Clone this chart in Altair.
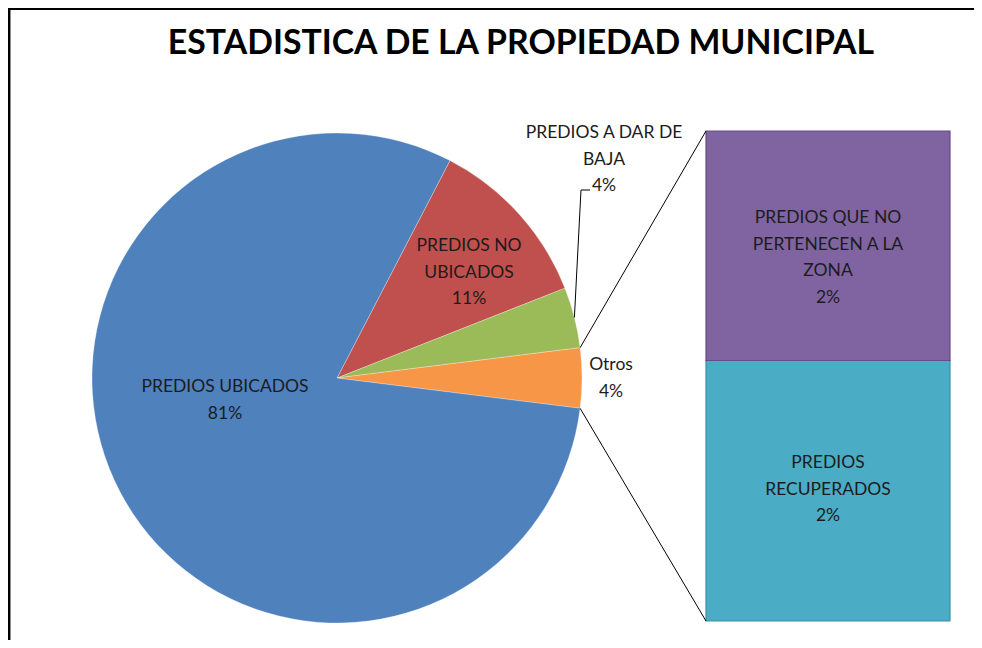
import math
import altair as alt
import pandas as pd

# ---------------- data ----------------
TITLE = "ESTADISTICA DE LA PROPIEDAD MUNICIPAL"
pie_names = ["PREDIOS NO\nUBICADOS", "PREDIOS A DAR DE\nBAJA", "Otros", "PREDIOS UBICADOS"]
bar_names = ["PREDIOS\nRECUPERADOS", "PREDIOS QUE NO\nPERTENECEN  A LA\nZONA"]
bar_values = [2.1, 1.85]
pie_values = [11.4, 4.0, sum(bar_values), 80.65]
pie_colors = ["#C0504D", "#9BBB59", "#F79646", "#4F81BD"]
bar_colors = ["#4BACC6", "#8064A2"]
bar_strokes = ["#3A8FA6", "#664E85"]

# ---------------- layout ----------------
W, H = 966, 632
CX, CY, R = 329, 370, 245
BX0, BX1, BY_TOP, BY_BOT = 698, 942, 123, 613
FONT = "Lato"
TXT = "#1c1c1c"
FS = 17.5
LH = 26.5

total = sum(pie_values)
otros_idx = 2
before = sum(pie_values[:otros_idx])
a0 = math.pi / 2 - 2 * math.pi * (before + pie_values[otros_idx] / 2) / total

pie_df = pd.DataFrame({
    "name": pie_names, "value": pie_values, "order": list(range(len(pie_names))),
    "color": pie_colors,
})

# bar stacked from bottom
cum = [0.0]
for v in bar_values:
    cum.append(cum[-1] + v)
btot = cum[-1]
bar_df = pd.DataFrame({
    "name": bar_names, "value": bar_values, "y0": cum[:-1], "y1": cum[1:],
    "color": bar_colors, "stroke": bar_strokes,
})
span = btot * H / (BY_BOT - BY_TOP)
d0 = -(H - BY_BOT) / H * span
bar_scale = alt.Scale(domain=[d0, d0 + span], nice=False, zero=False)

xs = alt.Scale(domain=[0, W], nice=False, zero=False)
ys = alt.Scale(domain=[0, H], nice=False, zero=False, reverse=True)


def edge(angle_frac, rr=R):
    a = a0 + 2 * math.pi * angle_frac
    return CX + rr * math.sin(a), CY - rr * math.cos(a)


# connector lines from "Otros" slice edges to the bar corners
o_start = before / total
o_end = (before + pie_values[otros_idx]) / total
p1 = edge(o_start)
p2 = edge(o_end)
conn_df = pd.DataFrame({
    "x": [p1[0], p2[0]], "y": [p1[1], p2[1]],
    "x2": [BX0, BX0], "y2": [BY_TOP, BY_BOT],
})

# leader line for green slice
g_mid = (pie_values[0] + pie_values[1] / 2) / total
gp = edge(g_mid)
leader_df = pd.DataFrame({
    "x": [gp[0], 573, 582], "y": [gp[1], 182, 182], "i": [0, 1, 2],
})

# labels (position = first line of each label block)
def pct(v):
    return f"{round(v / total * 100)}%"

label_pos = {
    "PREDIOS UBICADOS": (217, 379),
    "PREDIOS NO\nUBICADOS": (461, 238),
    "PREDIOS A DAR DE\nBAJA": (596, 125),
    "Otros": (603, 357),
}
bar_label_pos = [(820, 455), (820, 210)]
rows = []
for n, v in zip(pie_names, pie_values):
    x, y = label_pos[n]
    rows.append({"t": f"{n}\n{pct(v)}", "x": x, "y": y})
for (x, y), n, v in zip(bar_label_pos, bar_names, bar_values):
    rows.append({"t": f"{n}\n{pct(v)}", "x": x, "y": y})
lab_df = pd.DataFrame(rows)

# ---------------- chart ----------------
pie = alt.Chart(pie_df).mark_arc(radius=R, stroke="#ffffff", strokeWidth=0.4, strokeOpacity=0.7).encode(
    theta=alt.Theta("value:Q", stack=True,
                    scale=alt.Scale(range=[a0, a0 + 2 * math.pi])),
    order=alt.Order("order:Q"),
    color=alt.Color("color:N", scale=None),
    x=alt.value(CX), y=alt.value(CY),
)

bar = alt.Chart(bar_df).mark_rect(strokeWidth=1.2).encode(
    x=alt.value(BX0), x2=alt.value(BX1),
    y=alt.Y("y0:Q", scale=bar_scale, axis=None), y2="y1:Q",
    color=alt.Color("color:N", scale=None),
    stroke=alt.Stroke("stroke:N", scale=None),
)

conn = alt.Chart(conn_df).mark_rule(color="#000000", strokeWidth=1).encode(
    x=alt.X("x:Q", scale=xs, axis=None), y=alt.Y("y:Q", scale=ys, axis=None),
    x2="x2:Q", y2="y2:Q",
)

leader = alt.Chart(leader_df).mark_line(color="#000000", strokeWidth=1).encode(
    x=alt.X("x:Q", scale=xs, axis=None), y=alt.Y("y:Q", scale=ys, axis=None),
    order="i:Q",
)

labels = alt.Chart(lab_df).mark_text(
    font=FONT, fontSize=FS, color=TXT, lineBreak="\n", lineHeight=LH,
    align="center", baseline="middle",
).encode(
    x=alt.X("x:Q", scale=xs, axis=None), y=alt.Y("y:Q", scale=ys, axis=None),
    text="t:N",
)

title = alt.Chart(pd.DataFrame({"t": [TITLE]})).mark_text(
    font=FONT, fontSize=33.8, fontWeight="bold", color="#000000",
    align="center", baseline="middle",
).encode(x=alt.value(513), y=alt.value(36), text="t:N")

frame_top = alt.Chart(pd.DataFrame({"a": [0]})).mark_rule(color="#000000", strokeWidth=3).encode(
    x=alt.value(0), x2=alt.value(W), y=alt.value(0.5))
frame_left = alt.Chart(pd.DataFrame({"a": [0]})).mark_rule(color="#000000", strokeWidth=2.5).encode(
    x=alt.value(1.2), y=alt.value(0), y2=alt.value(H))

chart = alt.layer(
    pie, bar, conn, leader, labels, title, frame_top, frame_left
).resolve_scale(y="independent", x="independent").properties(
    width=W, height=H, padding=0, autosize=alt.AutoSizeParams(type="none"),
    background="#ffffff",
).configure_view(stroke=None)

chart.save("out.html", embed_options={"renderer": "svg", "actions": False})
